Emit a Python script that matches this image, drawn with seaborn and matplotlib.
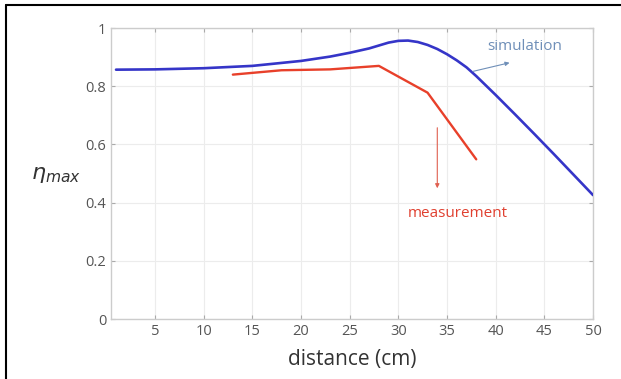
import matplotlib
matplotlib.use("Agg")
import matplotlib.pyplot as plt
import seaborn as sns
import pandas as pd
from matplotlib.lines import Line2D

# ---- data ----
sim_x = [1, 5, 10, 15, 20, 23, 25, 27, 28, 29, 30, 31, 32, 33, 34, 35, 36, 37, 38, 40, 42, 44, 46, 48, 50]
sim_y = [0.857, 0.858, 0.862, 0.870, 0.887, 0.902, 0.915, 0.930, 0.940, 0.950, 0.956, 0.957, 0.952,
         0.942, 0.928, 0.910, 0.889, 0.865, 0.835, 0.770, 0.703, 0.635, 0.566, 0.496, 0.426]
meas_x = [13, 18, 23, 28, 33, 38]
meas_y = [0.840, 0.855, 0.858, 0.870, 0.778, 0.549]
x_ticks = [5, 10, 15, 20, 25, 30, 35, 40, 45, 50]
y_ticks = [0, 0.2, 0.4, 0.6, 0.8, 1]
y_tick_labels = ["0", "0.2", "0.4", "0.6", "0.8", "1"]

sns.set_style("white")
plt.rcParams['font.family'] = ['Open Sans', 'DejaVu Sans']

fig = plt.figure(figsize=(6.21, 3.79), dpi=100)
ax = fig.add_axes([0.179, 0.158, 0.776, 0.768])

sim_df = pd.DataFrame({"x": sim_x, "y": sim_y})
meas_df = pd.DataFrame({"x": meas_x, "y": meas_y})
sns.lineplot(data=sim_df, x="x", y="y", ax=ax, color="#3535c8", linewidth=1.9, zorder=3)
sns.lineplot(data=meas_df, x="x", y="y", ax=ax, color="#e8402a", linewidth=1.7, zorder=3)

ax.set_xlim(0.5, 50)
ax.set_ylim(0, 1)
ax.set_xticks(x_ticks)
ax.set_yticks(y_ticks)
ax.set_yticklabels(y_tick_labels)
ax.grid(True, color="#ececec", linewidth=0.8)
ax.tick_params(direction="in", length=3, color="#aaaaaa", labelcolor="#555555",
               labelsize=10.5, top=True, right=True, bottom=True, left=True,
               labeltop=False, labelright=False)
for s in ax.spines.values():
    s.set_color("#cccccc")
    s.set_linewidth(1.0)

ax.set_xlabel("distance (cm)", fontsize=15, color="#333333", labelpad=7)
ax.set_ylabel(r"$\eta_{max}$", fontsize=16, color="#333333", rotation=0)
ax.yaxis.set_label_coords(-0.115, 0.46)

# annotations
ax.annotate("", xy=(41.7, 0.883), xytext=(37.4, 0.849),
            arrowprops=dict(arrowstyle="-|>", color="#6f8fb8", lw=0.8, mutation_scale=6))
ax.text(43.0, 0.935, "simulation", color="#6f8fb8", fontsize=11, ha="center", va="center")
ax.annotate("", xy=(34.0, 0.440), xytext=(34.0, 0.667),
            arrowprops=dict(arrowstyle="-|>", color="#e06050", lw=0.8, mutation_scale=6))
ax.text(36.1, 0.364, "measurement", color="#e04030", fontsize=11, ha="center", va="center")

# outer frame (left and top)
fig.add_artist(Line2D([0.009, 0.009], [0, 0.987], transform=fig.transFigure, color="black", lw=1.5))
fig.add_artist(Line2D([0.009, 1.0], [0.987, 0.987], transform=fig.transFigure, color="black", lw=1.5))

fig.savefig("out.png", dpi=100)
